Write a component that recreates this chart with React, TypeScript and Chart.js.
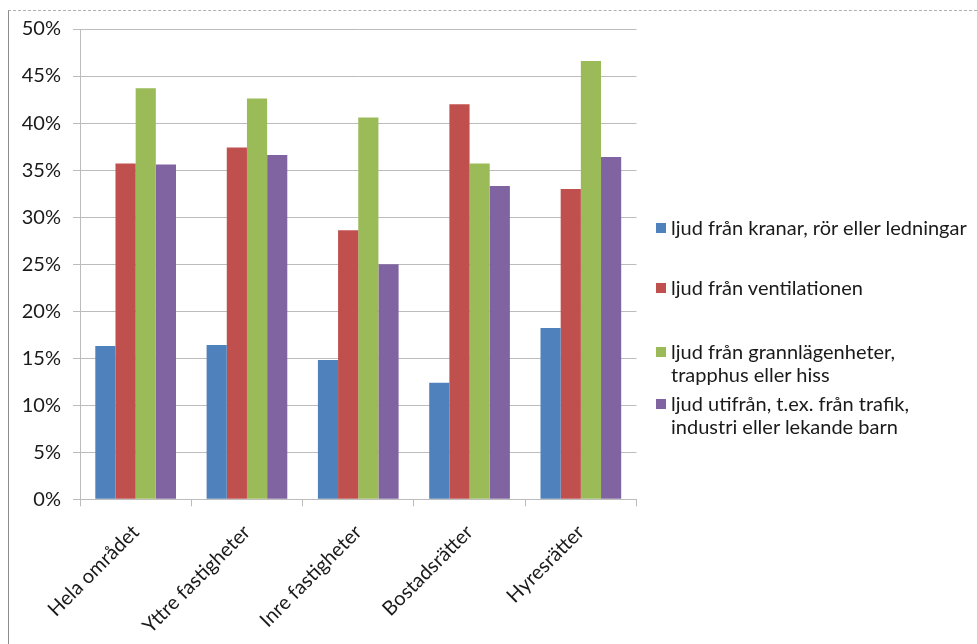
import React, { useEffect, useRef } from "react";
import { Chart, registerables } from "chart.js";

Chart.register(...registerables);

const categories = ["Hela området", "Yttre fastigheter", "Inre fastigheter", "Bostadsrätter", "Hyresrätter"];
const seriesNames = [
  "ljud från kranar, rör eller ledningar",
  "ljud från ventilationen",
  "ljud från grannlägenheter, trapphus eller hiss",
  "ljud utifrån, t.ex. från trafik, industri eller lekande barn",
];
const legendLines = [
  ["ljud från kranar, rör eller ledningar"],
  ["ljud från ventilationen"],
  ["ljud från grannlägenheter,", "trapphus eller hiss"],
  ["ljud utifrån, t.ex. från trafik,", "industri eller lekande barn"],
];
const kranar = [16.3, 16.4, 14.8, 12.4, 18.2];
const ventilationen = [35.7, 37.4, 28.6, 42.0, 33.0];
const grannlagenheter = [43.7, 42.6, 40.6, 35.7, 46.6];
const utifran = [35.6, 36.6, 25.0, 33.3, 36.4];
const seriesValues = [kranar, ventilationen, grannlagenheter, utifran];
const colors = ["#4F81BD", "#C0504D", "#9BBB59", "#8064A2"];
const yMin = 0;
const yMax = 50;
const yStep = 5;

const FONT = "Lato, 'Open Sans', sans-serif";
const TEXT = "#1a1a1a";
const GRID = "#bcbcbc";

const legendTops = [205, 265, 329, 381];

export default function App() {
  const ref = useRef<HTMLCanvasElement | null>(null);

  useEffect(() => {
    if (!ref.current) return;
    const chart = new Chart(ref.current, {
      type: "bar",
      data: {
        labels: categories,
        datasets: seriesValues.map((vals, i) => ({
          label: seriesNames[i],
          data: vals,
          backgroundColor: colors[i],
          borderWidth: 0,
          categoryPercentage: 0.725,
          barPercentage: 1,
        })),
      },
      options: {
        animation: false,
        responsive: false,
        maintainAspectRatio: false,
        layout: { padding: { top: 18, left: 0, right: 340.5, bottom: 0 } },
        plugins: {
          legend: { display: false },
          tooltip: { enabled: false },
          title: { display: false },
        },
        scales: {
          x: {
            offset: true,
            grid: {
              display: true,
              drawOnChartArea: false,
              drawTicks: true,
              tickLength: 7,
              color: GRID,
              offset: true,
            },
            border: { display: true, color: GRID, width: 1 },
            ticks: {
              minRotation: 45,
              maxRotation: 45,
              padding: 14,
              color: TEXT,
              font: { family: FONT, size: 20 },
            },
            afterFit: (s: any) => {
              s.height = 144.7;
              s.paddingLeft = 0;
              s.paddingRight = 0;
            },
          },
          y: {
            min: yMin,
            max: yMax,
            grid: { color: GRID, tickLength: 7, drawTicks: true },
            border: { display: true, color: GRID, width: 1 },
            ticks: {
              stepSize: yStep,
              padding: 12,
              color: TEXT,
              font: { family: FONT, size: 20 },
              callback: (v: any) => `${v}%`,
            },
            afterFit: (s: any) => {
              s.width = 71;
              s.paddingTop = 0;
              s.paddingBottom = 0;
            },
          },
        },
      },
    });
    return () => chart.destroy();
  }, []);

  return (
    <div
      style={{
        position: "absolute",
        left: 8,
        top: 10,
        width: 968,
        height: 633,
        borderLeft: "1px solid #8c8c8c",
        borderTop: "1px dashed #b0b0b0",
        background: "#fff",
        overflow: "hidden",
      }}
    >
      <canvas
        ref={ref}
        width={968}
        height={633}
        style={{ position: "absolute", left: 0, top: 0, width: 968, height: 633 }}
      />
      {legendLines.map((lines, i) => (
        <div
          key={i}
          style={{
            position: "absolute",
            left: 647,
            top: legendTops[i],
            fontFamily: FONT,
            fontSize: 20,
            lineHeight: "23px",
            color: TEXT,
            whiteSpace: "nowrap",
          }}
        >
          <span
            style={{
              position: "absolute",
              left: 0,
              top: 7,
              width: 10,
              height: 10,
              background: colors[i],
            }}
          />
          <div style={{ marginLeft: 15 }}>
            {lines.map((t, j) => (
              <div key={j}>{t}</div>
            ))}
          </div>
        </div>
      ))}
    </div>
  );
}
